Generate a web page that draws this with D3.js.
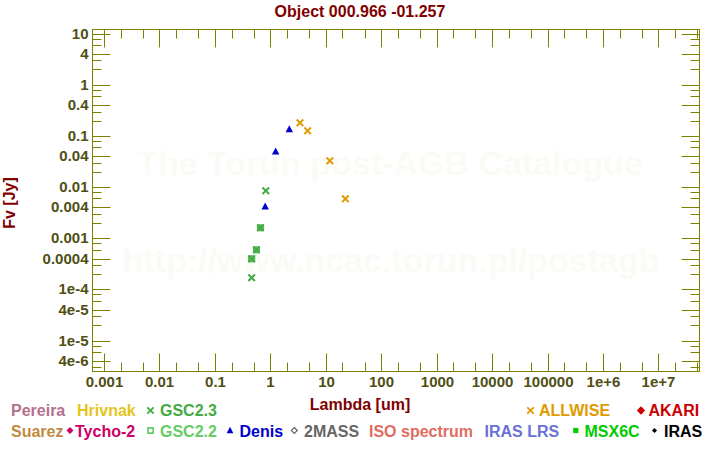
<!DOCTYPE html>
<html><head><meta charset="utf-8">
<script src="https://cdn.jsdelivr.net/npm/d3@7"></script>
<style>
body{margin:0;background:#fff}
svg{display:block}
text{font-family:"Liberation Sans",Arial,Helvetica,sans-serif;font-weight:bold}
</style>
</head><body>
<svg id="c" width="720" height="450"></svg>
<script>
// ---------- data ----------
const chartTitle = "Object 000.966 -01.257";
const xTitle = "Lambda [um]";
const yTitle = "Fv [Jy]";
const xTickValues = [0.001, 0.01, 0.1, 1, 10, 100, 1000, 10000, 100000, 1e6, 1e7];
const xTickLabels = ["0.001", "0.01", "0.1", "1", "10", "100", "1000", "10000", "100000", "1e+6", "1e+7"];
const yTickValues = [10, 4, 1, 0.4, 0.1, 0.04, 0.01, 0.004, 0.001, 0.0004, 1e-4, 4e-5, 1e-5, 4e-6];
const yTickLabels = ["10", "4", "1", "0.4", "0.1", "0.04", "0.01", "0.004", "0.001", "0.0004", "1e-4", "4e-5", "1e-5", "4e-6"];

const denisLambda = [0.79, 1.22, 2.15];
const denisFlux = [0.00425, 0.0506, 0.138];
const allwiseLambda = [3.35, 4.6, 11.6, 22.1];
const allwiseFlux = [0.185, 0.129, 0.0334, 0.00604];
const gsc23Lambda = [0.45, 0.81];
const gsc23Flux = [1.73e-4, 0.00867];
const gsc22Lambda = [0.45, 0.55, 0.65];
const gsc22Flux = [4.06e-4, 6.08e-4, 0.00164];

const legendRow1 = ["Pereira", "Hrivnak", "GSC2.3", "ALLWISE", "AKARI"];
const legendRow2 = ["Suarez", "Tycho-2", "GSC2.2", "Denis", "2MASS", "ISO spectrum", "IRAS LRS", "MSX6C", "IRAS"];

const watermark1 = "The Torun post-AGB Catalogue";
const watermark2 = "http://www.ncac.torun.pl/postagb";

// ---------- styles ----------
const colors = {
  "Pereira": "#b4708c", "Hrivnak": "#e5c51a", "GSC2.3": "#44aa44", "ALLWISE": "#e09a00",
  "AKARI": "#cc0000", "Suarez": "#c08a40", "Tycho-2": "#cc0066", "GSC2.2": "#66cc66",
  "Denis": "#0000cc", "2MASS": "#666666", "ISO spectrum": "#e06d5f", "IRAS LRS": "#6a70d8",
  "MSX6C": "#00cc00", "IRAS": "#000000"
};
const AXIS = "#808000", LABEL = "#4f4f14", TITLE = "#800000";

const svg = d3.select("#c");
const L = 92.5, R = 699.5, T = 29.5, B = 371.5;
const x = d3.scaleLog().domain([Math.pow(10, -3.217), Math.pow(10, 7.731)]).range([L, R]);
const y = d3.scaleLog().domain([Math.pow(10, 1.091), Math.pow(10, -5.595)]).range([T, B]);
const snap = v => Math.round(v - 0.5) + 0.5;

// watermark
const wm = svg.append("g").attr("fill", "#fbfaf5").attr("font-size", 34).attr("text-anchor", "middle");
wm.append("text").attr("x", 390).attr("y", 175).text(watermark1);
wm.append("text").attr("x", 391).attr("y", 272).text(watermark2);

// minor tick values
function minors(scale, mult) {
  const [a, b] = d3.extent(scale.domain());
  const out = [];
  for (let e = Math.floor(Math.log10(a)) - 1; e <= Math.ceil(Math.log10(b)); e++) {
    mult.forEach(m => { const v = m * Math.pow(10, e); if (v >= a && v <= b) out.push(v); });
  }
  return out;
}
const xMinor = minors(x, [2, 5]);
const yMinor = minors(y, [2, 3, 6, 8]);

function styleAxis(g, horiz, scale) {
  g.select(".domain").remove();
  g.selectAll(".tick line").attr("stroke", AXIS).attr("stroke-width", 1);
  g.selectAll(".tick").attr("transform", d => horiz ? `translate(${snap(scale(d))},0)` : `translate(0,${snap(scale(d))})`);
  g.selectAll(".tick text").attr("fill", LABEL).attr("font-size", 15)
    .attr("font-family", '"Liberation Sans",Arial,sans-serif').attr("font-weight", "bold");
}

// bottom
const gxb = svg.append("g").attr("transform", `translate(0,${B})`)
  .call(d3.axisBottom(x).tickValues(xTickValues).tickFormat((d, i) => xTickLabels[i])
    .tickSizeInner(-18).tickSizeOuter(0).tickPadding(5));
styleAxis(gxb, true, x);
gxb.selectAll(".tick text").attr("dy", "0.71em");
const gxbm = svg.append("g").attr("transform", `translate(0,${B})`)
  .call(d3.axisBottom(x).tickValues(xMinor).tickFormat("").tickSizeInner(-9).tickSizeOuter(0));
styleAxis(gxbm, true, x);
// top
const gxt = svg.append("g").attr("transform", `translate(0,${T})`)
  .call(d3.axisTop(x).tickValues(xTickValues).tickFormat("").tickSizeInner(-18).tickSizeOuter(0));
styleAxis(gxt, true, x);
const gxtm = svg.append("g").attr("transform", `translate(0,${T})`)
  .call(d3.axisTop(x).tickValues(xMinor).tickFormat("").tickSizeInner(-9).tickSizeOuter(0));
styleAxis(gxtm, true, x);
// left
const gyl = svg.append("g").attr("transform", `translate(${L},0)`)
  .call(d3.axisLeft(y).tickValues(yTickValues).tickFormat((d, i) => yTickLabels[i])
    .tickSizeInner(-18).tickSizeOuter(0).tickPadding(4));
styleAxis(gyl, false, y);
const gylm = svg.append("g").attr("transform", `translate(${L},0)`)
  .call(d3.axisLeft(y).tickValues(yMinor).tickFormat("").tickSizeInner(-9).tickSizeOuter(0));
styleAxis(gylm, false, y);
// right
const gyr = svg.append("g").attr("transform", `translate(${R},0)`)
  .call(d3.axisRight(y).tickValues(yTickValues).tickFormat("").tickSizeInner(-18).tickSizeOuter(0));
styleAxis(gyr, false, y);
const gyrm = svg.append("g").attr("transform", `translate(${R},0)`)
  .call(d3.axisRight(y).tickValues(yMinor).tickFormat("").tickSizeInner(-9).tickSizeOuter(0));
styleAxis(gyrm, false, y);

// frame
svg.append("rect").attr("x", L).attr("y", T).attr("width", R - L).attr("height", B - T)
  .attr("fill", "none").attr("stroke", AXIS).attr("stroke-width", 1);

// titles
svg.append("text").attr("x", 360).attr("y", 16.5).attr("text-anchor", "middle")
  .attr("font-size", 16).attr("fill", TITLE).text(chartTitle);
svg.append("text").attr("x", 360).attr("y", 410).attr("text-anchor", "middle")
  .attr("font-size", 16).attr("fill", TITLE).text(xTitle);
svg.append("text").attr("transform", "translate(15,203) rotate(-90)").attr("text-anchor", "middle")
  .attr("font-size", 16).attr("fill", TITLE).text(yTitle);

// marker shapes
const shapes = {
  cross: s => `M${-s},${-s}L${s},${s}M${-s},${s}L${s},${-s}`,
  tri: s => `M0,${-s * 1.1}L${s},${s * 0.8}L${-s},${s * 0.8}Z`,
  sq: s => `M${-s},${-s}H${s}V${s}H${-s}Z`,
  dia: s => `M0,${-s}L${s},0L0,${s}L${-s},0Z`
};
function drawMarker(g, type, cx, cy, s, color, opts = {}) {
  const p = g.append("path").attr("transform", `translate(${cx},${cy})`).attr("d", shapes[type](s));
  if (type === "cross") p.attr("fill", "none").attr("stroke", color).attr("stroke-width", opts.sw || 2);
  else if (opts.hollow) p.attr("fill", "none").attr("stroke", color).attr("stroke-width", opts.sw || 1.5);
  else p.attr("fill", color);
  return p;
}

// data points
const pts = svg.append("g");
function series(lam, flux) { return lam.map((l, i) => ({ l, f: flux[i] })); }
series(gsc22Lambda, gsc22Flux).forEach(d => {
  drawMarker(pts, "sq", x(d.l), y(d.f), 3.6, "#58b858");
  drawMarker(pts, "cross", x(d.l), y(d.f), 3.2, "#44a844", { sw: 1.6 });
});
series(gsc23Lambda, gsc23Flux).forEach(d => drawMarker(pts, "cross", x(d.l), y(d.f), 3.3, colors["GSC2.3"]));
series(denisLambda, denisFlux).forEach(d => drawMarker(pts, "tri", x(d.l), y(d.f), 3.7, colors["Denis"]));
series(allwiseLambda, allwiseFlux).forEach(d => drawMarker(pts, "cross", x(d.l), y(d.f), 3.3, colors["ALLWISE"]));

// legend
const lg = svg.append("g").attr("font-size", 16);
const row1Layout = { "Pereira": [11], "Hrivnak": [77], "GSC2.3": [160, "cross", 150.5], "ALLWISE": [539, "cross", 530.5], "AKARI": [648.5, "dia", 641] };
const row2Layout = { "Suarez": [11], "Tycho-2": [75, "dia", 70], "GSC2.2": [160, "sqh", 150.5], "Denis": [239.5, "tri", 230],
  "2MASS": [304, "diah", 294.3], "ISO spectrum": [369, null], "IRAS LRS": [484.5, null], "MSX6C": [584.5, "sq", 575.8], "IRAS": [664, "dot", 654.5] };
function drawRow(names, layout, base, my) {
  names.forEach(n => {
    const [tx, sym, sx] = layout[n];
    const c = colors[n];
    if (sym === "cross") drawMarker(lg, "cross", sx, my, 3.2, c, { sw: 1.8 });
    if (sym === "dia") drawMarker(lg, "dia", sx, my, n === "AKARI" ? 4.2 : 3.5, c);
    if (sym === "sqh") drawMarker(lg, "sq", sx, my, 2.6, c, { hollow: true, sw: 1.6 });
    if (sym === "sq") drawMarker(lg, "sq", sx, my, 2.6, c);
    if (sym === "tri") drawMarker(lg, "tri", sx, my, 3.4, c);
    if (sym === "diah") drawMarker(lg, "dia", sx, my, 3, c, { hollow: true, sw: 1.2 });
    if (sym === "dot") drawMarker(lg, "dia", sx, my, 2.5, c);
    lg.append("text").attr("x", tx).attr("y", base).attr("fill", c).text(n);
  });
}
drawRow(legendRow1, row1Layout, 416, 410.5);
drawRow(legendRow2, row2Layout, 436.5, 430.5);
</script>
</body></html>
